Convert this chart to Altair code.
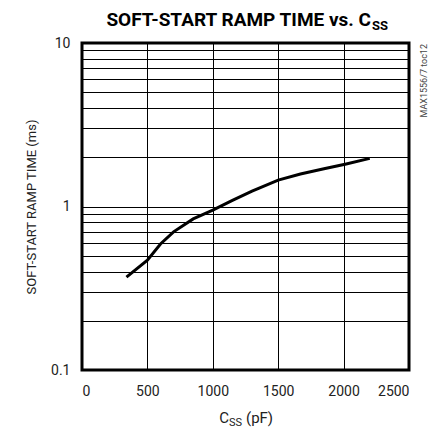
import altair as alt
import pandas as pd

css_pf = [340, 500, 600, 700, 850, 1000, 1150, 1300, 1500, 1670, 1850, 2020, 2200]
ramp_ms = [0.37, 0.47, 0.59, 0.70, 0.84, 0.95, 1.09, 1.24, 1.45, 1.58, 1.70, 1.82, 1.97]
x_ticks = [0, 500, 1000, 1500, 2000, 2500]
y_grid = [0.1, 0.2, 0.3, 0.4, 0.5, 0.6, 0.7, 0.8, 0.9,
          1, 2, 3, 4, 5, 6, 7, 8, 9, 10]

FONT = "Liberation Sans Narrow, Arial Narrow, Roboto, sans-serif"
W, H = 327, 327

df = pd.DataFrame({"c": css_pf, "t": ramp_ms})

xs = alt.Scale(domain=[0, 2500], nice=False)
ys = alt.Scale(type="log", domain=[0.1, 10], nice=False)

line = alt.Chart(df).mark_line(color="black", strokeWidth=3).encode(
    x=alt.X("c:Q", scale=xs,
            axis=alt.Axis(values=x_ticks, title=None, grid=True, ticks=False,
                          domain=False, labelPadding=14, labelFontSize=14,
                          labelFont=FONT, labelColor="#222", format="d",
                          gridColor="black", gridWidth=1, gridOpacity=1)),
    y=alt.Y("t:Q", scale=ys,
            axis=alt.Axis(values=y_grid, title="SOFT-START RAMP TIME (ms)",
                          labelExpr="datum.value == 0.1 ? '0.1' : (datum.value == 1 ? '1' : (datum.value == 10 ? '10' : ''))",
                          grid=True, ticks=False, domain=False, labelPadding=12,
                          labelFontSize=14, labelFont=FONT, labelColor="#222",
                          titleFont=FONT, titleFontSize=13, titleFontWeight="normal",
                          titleColor="#222", titlePadding=12,
                          gridColor="black", gridWidth=1, gridOpacity=1)),
)

border = alt.Chart(pd.DataFrame({"a": [0]})).mark_rect(
    fill=None, stroke="black", strokeWidth=3
).encode(x=alt.value(0), x2=alt.value(W), y=alt.value(0), y2=alt.value(H))


def txt(s, x, y, size, weight="normal", align="center", angle=0, color="black", baseline="alphabetic"):
    return alt.Chart(pd.DataFrame({"s": [s]})).mark_text(
        font=FONT, fontSize=size, fontWeight=weight, align=align, angle=angle,
        color=color, baseline=baseline,
    ).encode(text="s:N", x=alt.value(x), y=alt.value(y))


title_main = txt("SOFT-START RAMP TIME vs. C", 289, -17, 19, weight="bold", align="right")
title_sub = txt("SS", 290, -13, 13, weight="bold", align="left")
xt_c = txt("C", 147, H + 53, 15, align="right", color="#222")
xt_ss = txt("SS", 147, H + 56, 11, align="left", color="#222")
xt_pf = txt("(pF)", 164, H + 53, 15, align="left", color="#222")
wm = txt("MAX1556/7 toc12", 342, 1, 9, align="right", angle=270, color="#444", baseline="middle")

chart = alt.layer(line, border, title_main, title_sub, xt_c, xt_ss, xt_pf, wm).properties(
    width=W, height=H,
    background="white",
    autosize=alt.AutoSizeParams(type="none"),
    padding={"left": 74, "top": 35, "right": 20, "bottom": 62},
).configure_view(stroke=None)

chart.save("out.html", embed_options={"renderer": "svg", "actions": False})
